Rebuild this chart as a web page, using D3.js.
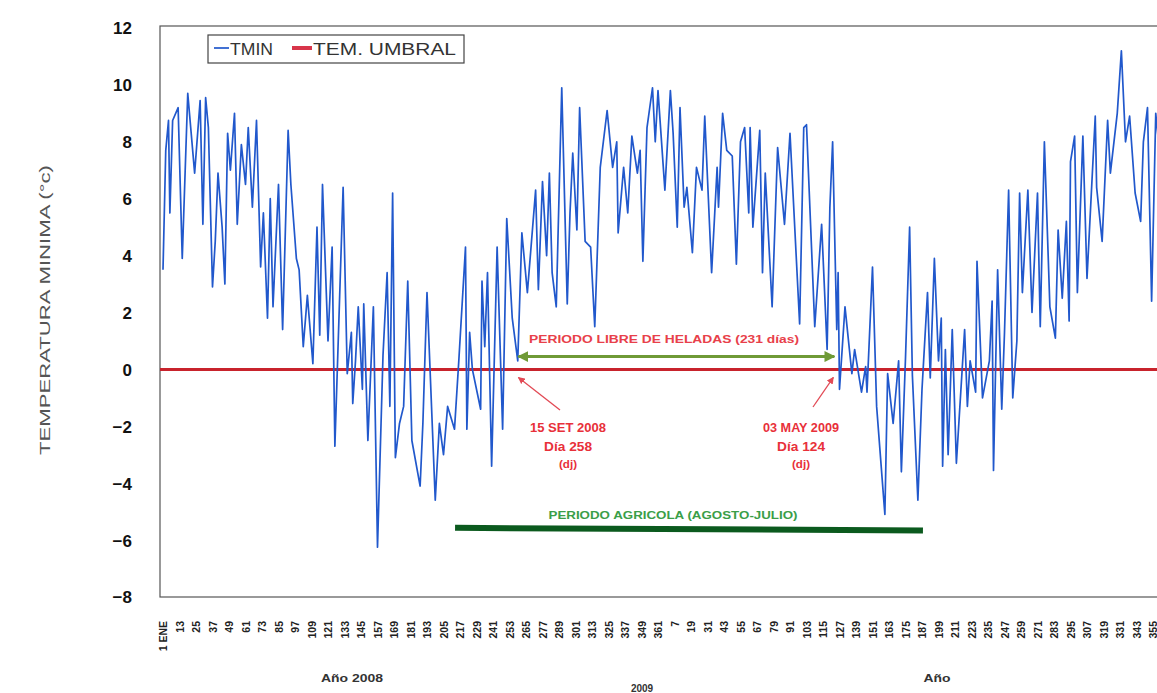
<!DOCTYPE html>
<html>
<head>
<meta charset="utf-8">
<script src="https://cdn.jsdelivr.net/npm/d3@7/dist/d3.min.js"></script>
<style>
  html, body { margin: 0; padding: 0; background: #fff; }
  svg { display: block; font-family: Arial, "Liberation Sans", sans-serif; }
</style>
</head>
<body>
<svg id="chart" width="1157" height="693"></svg>
<script>
// ---------------- DATA ----------------
// day index counted from 1 Jan 2008 (day 367 = 1 Jan 2009)
const days = [1,3,5,6,8,12,15,19,24,28,30,32,34,37,39,41,44,46,48,50,53,55,58,61,63,66,69,72,74,77,79,81,85,88,92,94,98,100,103,106,110,113,115,117,121,124,126,132,135,138,139,141,143,146,147,150,154,157,161,164,166,168,170,173,176,179,182,188,190,193,199,202,205,208,213,216,221,222,224,226,232,233,235,237,240,244,248,251,255,259,262,266,272,274,277,280,282,284,287,291,295,297,299,302,304,308,312,315,319,324,328,331,332,336,339,342,346,348,350,353,357,359,361,366,370,372,375,377,380,382,386,389,393,395,400,404,405,408,411,415,418,421,424,427,428,430,435,437,439,444,448,453,457,464,467,469,475,480,484,486,488,491,492,493,497,502,504,509,512,513,517,520,526,528,532,536,538,541,544,546,550,553,557,559,562,565,567,568,570,572,575,578,584,586,588,592,593,597,602,604,605,608,611,613,616,619,622,624,626,630,633,637,639,642,646,650,652,655,658,660,661,664,666,670,673,679,680,684,688,690,695,698,701,704,708,712,714,717,720,723,727];
const tmin = [3.5,7.7,8.75,5.5,8.75,9.2,3.9,9.7,6.9,9.45,5.1,9.55,8.5,2.9,4.5,6.9,5.0,3.0,8.3,7.0,9.0,5.1,7.9,6.5,8.5,5.7,8.75,3.6,5.5,1.8,6.0,2.2,6.5,1.4,8.4,6.5,3.9,3.5,0.8,2.6,0.2,5.0,1.2,6.5,1.0,4.3,-2.7,6.4,-0.15,1.3,-1.2,0.3,2.2,-0.7,2.3,-2.5,2.2,-6.25,0.5,3.4,-1.3,6.2,-3.1,-1.9,-1.3,3.1,-2.5,-4.1,-1.9,2.7,-4.6,-1.9,-3.0,-1.3,-2.1,0.2,4.3,-2.1,1.3,0.0,-1.4,3.1,0.8,3.4,-3.4,4.3,-2.1,5.3,1.8,0.3,4.8,2.7,6.3,2.8,6.6,4.0,6.9,3.4,2.2,9.9,2.3,5.5,7.6,4.9,9.2,4.5,4.3,1.5,7.1,9.1,7.1,8.0,4.8,7.1,5.5,8.2,6.9,7.7,3.8,8.5,9.9,8.0,9.8,6.3,9.8,8.3,5.0,9.2,5.7,6.4,4.1,7.1,6.3,8.9,3.4,7.1,5.7,9.0,7.7,7.5,3.7,8.0,8.5,5.5,8.5,5.0,8.4,3.4,6.9,2.2,7.8,5.1,8.3,1.6,8.5,8.6,1.5,5.1,0.7,5.7,8.0,1.4,3.4,-0.7,2.2,-0.15,0.7,-0.8,0.1,-0.8,3.6,-1.3,-5.1,-0.15,-1.9,0.3,-3.6,0.4,5.0,-0.2,-4.6,-0.7,2.7,-0.3,3.9,0.3,1.8,-3.4,0.7,-3.0,1.4,-3.3,1.4,-1.3,0.3,-0.8,3.8,-1.0,0.3,2.4,-3.55,3.5,-1.4,1.3,6.3,-1.0,1.0,6.2,2.7,6.3,2.0,6.2,1.5,8.0,2.2,1.1,4.9,2.5,5.2,1.7,7.3,8.2,2.7,8.2,3.2,8.9,6.4,4.5,8.75,6.9,9.0,11.2,8.0,8.9,6.2,5.2,8.0,9.2,2.4,9.0,7.0];

const thresholdValue = 0;
const yTicks = [12,10,8,6,4,2,0,-2,-4,-6,-8];
const xTickLabels = ["1 ENE","13","25","37","49","61","73","85","97","109","121","133","145","157","169","181","193","205","217","229","241","253","265","277","289","301","313","325","337","349","361",
  "7","19","31","43","55","67","79","91","103","115","127","139","151","163","175","187","199","211","223","235","247","259","271","283","295","307","319","331","343","355"];
const tickStep = 12;

// annotations (days / values)
const frostFree = {start: 258, end: 490, value: 0.45, label: "PERIODO LIBRE DE HELADAS (231 días)"};
const agri = {start: 213.4, end: 553.7, v0: -5.57, v1: -5.66, label: "PERIODO AGRICOLA (AGOSTO-JULIO)"};
const noteLeft = ["15 SET 2008", "Día 258", "(dj)"];
const noteRight = ["03 MAY 2009", "Día 124", "(dj)"];

// ---------------- LAYOUT ----------------
const svg = d3.select("#chart");
const plot = {left: 160, top: 26, right: 1170, bottom: 597};

const x = d3.scaleLinear().domain([1, 731]).range([163, 163 + 730 * 1.375]);
const y = d3.scaleLinear().domain([-8, 12]).range([597, 28]);

const defs = svg.append("defs");
defs.append("clipPath").attr("id", "clip")
  .append("rect").attr("x", plot.left).attr("y", plot.top)
  .attr("width", plot.right - plot.left).attr("height", plot.bottom - plot.top);

function arrowMarker(id, color, size, orient) {
  defs.append("marker").attr("id", id)
    .attr("viewBox", "0 0 10 10").attr("refX", 9).attr("refY", 5)
    .attr("markerWidth", size).attr("markerHeight", size)
    .attr("markerUnits", "userSpaceOnUse")
    .attr("orient", orient)
    .append("path").attr("d", "M0,0 L10,5 L0,10 Z").attr("fill", color);
}
arrowMarker("arrGreen", "#6f9a36", 11, "auto-start-reverse");
arrowMarker("arrRed", "#e24a55", 7, "auto");

// plot frame
svg.append("rect")
  .attr("x", plot.left).attr("y", plot.top)
  .attr("width", plot.right - plot.left).attr("height", plot.bottom - plot.top)
  .attr("fill", "#fff").attr("stroke", "#555").attr("stroke-width", 1.2);

// y axis
const yAxis = d3.axisLeft(y).tickValues(yTicks).tickSize(0).tickPadding(0).tickFormat(d3.format("d"));
const gy = svg.append("g").attr("transform", `translate(132,0)`).call(yAxis);
gy.select(".domain").remove();
gy.selectAll("text").attr("font-size", 17).attr("font-weight", "bold").attr("fill", "#111")
  .attr("font-family", "Arial, 'Liberation Sans', sans-serif").attr("dy", "0.35em");

// y axis title
svg.append("text")
  .attr("transform", "translate(50,310) rotate(-90)")
  .attr("text-anchor", "middle")
  .attr("font-size", 14).attr("fill", "#555")
  .attr("textLength", 290).attr("lengthAdjust", "spacingAndGlyphs")
  .text("TEMPERATURA MINIMA (°c)");

// x axis tick labels
const tickDays = xTickLabels.map((_, i) => 1 + i * tickStep);
const xAxis = d3.axisBottom(x).tickValues(tickDays).tickSize(0).tickPadding(0)
  .tickFormat((d, i) => xTickLabels[i]);
const gx = svg.append("g").attr("transform", `translate(0,621)`).call(xAxis);
gx.select(".domain").remove();
gx.selectAll("text")
  .attr("font-size", 10.5).attr("font-weight", "bold").attr("fill", "#222")
  .attr("font-family", "Arial, 'Liberation Sans', sans-serif")
  .attr("text-anchor", "end")
  .attr("transform", "rotate(-90)")
  .attr("x", 0).attr("y", 0).attr("dy", "0.35em");

// year labels
svg.append("text").attr("x", 352).attr("y", 682).attr("text-anchor", "middle")
  .attr("font-size", 11).attr("font-weight", "bold").attr("fill", "#333")
  .attr("textLength", 62).attr("lengthAdjust", "spacingAndGlyphs").text("Año 2008");
svg.append("text").attr("x", 642).attr("y", 692).attr("text-anchor", "middle")
  .attr("font-size", 10).attr("font-weight", "bold").attr("fill", "#333").text("2009");
svg.append("text").attr("x", 937).attr("y", 682).attr("text-anchor", "middle")
  .attr("font-size", 11).attr("font-weight", "bold").attr("fill", "#333")
  .attr("textLength", 27).attr("lengthAdjust", "spacingAndGlyphs").text("Año");

// series
const series = days.map((d, i) => ({d, v: tmin[i]}));
const gPlot = svg.append("g").attr("clip-path", "url(#clip)");

gPlot.append("line")
  .attr("x1", plot.left).attr("x2", plot.right)
  .attr("y1", y(thresholdValue)).attr("y2", y(thresholdValue))
  .attr("stroke", "#c8232c").attr("stroke-width", 3);

gPlot.append("path").datum(series)
  .attr("d", d3.line().x(p => x(p.d)).y(p => y(p.v)))
  .attr("fill", "none").attr("stroke", "#2158cc").attr("stroke-width", 1.7)
  .attr("stroke-linejoin", "round");

// frost free period arrow + label
svg.append("line")
  .attr("x1", x(frostFree.start) + 2).attr("x2", x(frostFree.end) - 1)
  .attr("y1", y(frostFree.value)).attr("y2", y(frostFree.value))
  .attr("stroke", "#6f9a36").attr("stroke-width", 3)
  .attr("marker-start", "url(#arrGreen)").attr("marker-end", "url(#arrGreen)");
svg.append("text").attr("x", 664).attr("y", 343).attr("text-anchor", "middle")
  .attr("font-size", 11).attr("font-weight", "bold").attr("fill", "#e8404a")
  .attr("textLength", 270).attr("lengthAdjust", "spacingAndGlyphs").text(frostFree.label);

// red pointer arrows
svg.append("line").attr("x1", 560).attr("y1", 410).attr("x2", x(frostFree.start) + 2).attr("y2", y(thresholdValue) + 8)
  .attr("stroke", "#e24a55").attr("stroke-width", 1.3).attr("marker-end", "url(#arrRed)");
svg.append("line").attr("x1", 813).attr("y1", 407).attr("x2", x(frostFree.end) - 2).attr("y2", y(thresholdValue) + 8)
  .attr("stroke", "#e24a55").attr("stroke-width", 1.3).attr("marker-end", "url(#arrRed)");

function note(lines, cx) {
  const ys = [432, 451, 468];
  const lens = [76, 48, 18];
  const sizes = [12, 12, 10];
  lines.forEach((t, i) => {
    svg.append("text").attr("x", cx).attr("y", ys[i]).attr("text-anchor", "middle")
      .attr("font-size", sizes[i]).attr("font-weight", "bold").attr("fill", "#e8303a")
      .attr("textLength", lens[i]).attr("lengthAdjust", "spacingAndGlyphs").text(t);
  });
}
note(noteLeft, 568);
note(noteRight, 801);

// agricultural period
svg.append("line")
  .attr("x1", x(agri.start)).attr("x2", x(agri.end))
  .attr("y1", y(agri.v0)).attr("y2", y(agri.v1))
  .attr("stroke", "#0b5a1e").attr("stroke-width", 6);
svg.append("text").attr("x", 673).attr("y", 519).attr("text-anchor", "middle")
  .attr("font-size", 11).attr("font-weight", "bold").attr("fill", "#3a9e48")
  .attr("textLength", 249).attr("lengthAdjust", "spacingAndGlyphs").text(agri.label);

// legend
const lg = svg.append("g");
lg.append("rect").attr("x", 208).attr("y", 35).attr("width", 256).attr("height", 28)
  .attr("fill", "#fff").attr("stroke", "#444").attr("stroke-width", 1.2);
lg.append("line").attr("x1", 214).attr("x2", 229).attr("y1", 48).attr("y2", 48)
  .attr("stroke", "#2158cc").attr("stroke-width", 1.7);
lg.append("text").attr("x", 230).attr("y", 55).attr("font-size", 16).attr("fill", "#333")
  .attr("textLength", 43).attr("lengthAdjust", "spacingAndGlyphs").text("TMIN");
lg.append("line").attr("x1", 292).attr("x2", 312).attr("y1", 48).attr("y2", 48)
  .attr("stroke", "#d8354a").attr("stroke-width", 4);
lg.append("text").attr("x", 313).attr("y", 55).attr("font-size", 16).attr("fill", "#333")
  .attr("textLength", 143).attr("lengthAdjust", "spacingAndGlyphs").text("TEM. UMBRAL");
</script>
</body>
</html>
